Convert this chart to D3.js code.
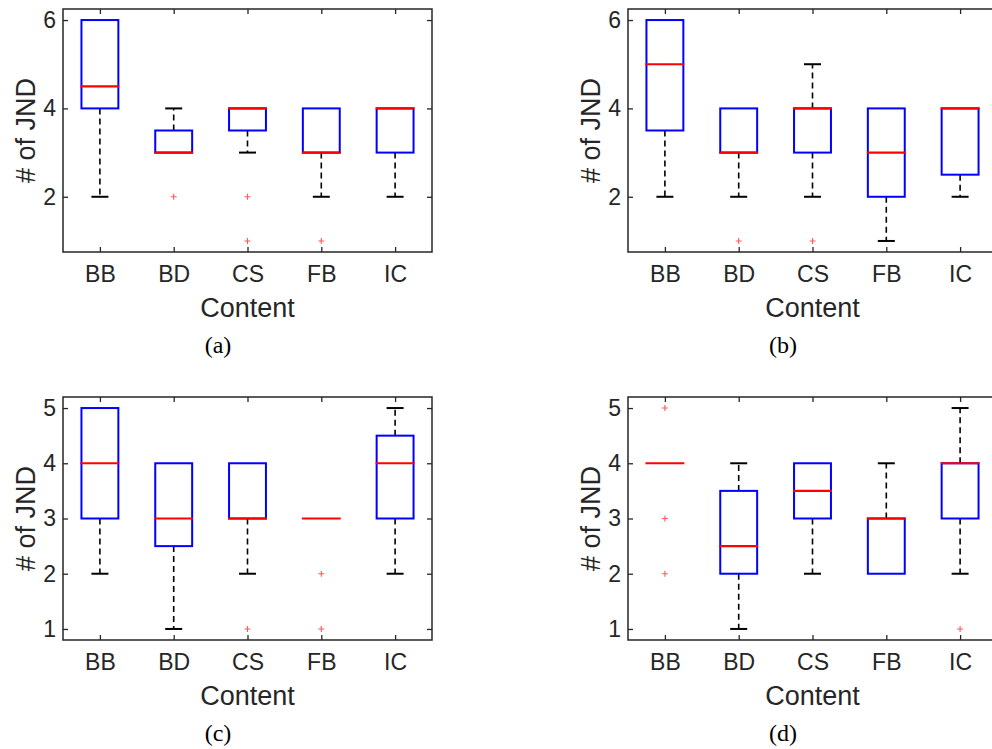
<!DOCTYPE html>
<html>
<head>
<meta charset="utf-8">
<script src="https://cdn.jsdelivr.net/npm/d3@7"></script>
<style>
  body{margin:0;background:#fff;}
  svg{display:block;}
</style>
</head>
<body>
<div id="chart"></div>
<script>
var categories = ["BB", "BD", "CS", "FB", "IC"];

// per category: [lower whisker, q1, median, q3, upper whisker]
var statsA = [[2, 4, 4.5, 6, 6], [3, 3, 3, 3.5, 4], [3, 3.5, 4, 4, 4], [2, 3, 3, 4, 4], [2, 3, 4, 4, 4]];
var outliersA = [[], [2], [2, 1], [1], []];

var statsB = [[2, 3.5, 5, 6, 6], [2, 3, 3, 4, 4], [2, 3, 4, 4, 5], [1, 2, 3, 4, 4], [2, 2.5, 4, 4, 4]];
var outliersB = [[], [1], [1], [], []];

var statsC = [[2, 3, 4, 5, 5], [1, 2.5, 3, 4, 4], [2, 3, 3, 4, 4], [3, 3, 3, 3, 3], [2, 3, 4, 4.5, 5]];
var outliersC = [[], [], [1], [2, 1], []];

var statsD = [[4, 4, 4, 4, 4], [1, 2, 2.5, 3.5, 4], [2, 3, 3.5, 4, 4], [2, 2, 3, 3, 4], [2, 3, 4, 4, 5]];
var outliersD = [[5, 3, 2], [], [], [], [1]];

var yTicksTop = [2, 4, 6];
var yTicksBottom = [1, 2, 3, 4, 5];
var yDomainTop = [0.75, 6.25];
var yDomainBottom = [0.8, 5.2];

var W = 992, H = 749,
    PW = 369, PH = 243;

var svg = d3.select("#chart").append("svg")
    .attr("width", W)
    .attr("height", H);

function drawPanel(cfg){
    var g = svg.append("g")
            .attr("transform", "translate(" + cfg.left + "," + cfg.top + ")"),
        x = d3.scalePoint().domain(categories).range([0, PW]).padding(0.5),
        y = d3.scaleLinear().domain(cfg.domain).range([PH, 0]),
        step = x.step(),
        boxW = step * 0.5,
        capW = 17,
        TICK = 5,
        FONT = "'Liberation Sans', Arial, Helvetica, sans-serif";

    // axes with inward ticks on all four sides
    var left = g.append("g").call(d3.axisLeft(y).tickValues(cfg.ticks).tickSize(-TICK).tickPadding(7).tickFormat(d3.format("d")));
    var right = g.append("g").attr("transform", "translate(" + PW + ",0)")
        .call(d3.axisRight(y).tickValues(cfg.ticks).tickSize(-TICK).tickFormat(""));
    var bottom = g.append("g").attr("transform", "translate(0," + PH + ")")
        .call(d3.axisBottom(x).tickSize(-TICK).tickPadding(14));
    var top = g.append("g").call(d3.axisTop(x).tickSize(-TICK).tickFormat(""));
    [left, right, bottom, top].forEach(function(a){
        a.select(".domain").remove();
        a.selectAll("line").attr("stroke", "#262626").attr("stroke-width", 1.3);
        a.selectAll("text").attr("fill", "#262626").style("font-family", FONT).style("font-size", "23px");
    });

    var boxes = g.selectAll(".bx")
        .data(cfg.stats)
        .enter().append("g")
        .attr("class", "bx")
        .attr("transform", function(d, i){ return "translate(" + x(categories[i]) + ",0)"; });

    // whiskers (dashed)
    boxes.append("line")
        .attr("y1", function(d){ return y(d[3]); })
        .attr("y2", function(d){ return y(d[4]); })
        .attr("stroke", "#000").attr("stroke-width", 1.6).attr("stroke-dasharray", "6,4");
    boxes.append("line")
        .attr("y1", function(d){ return y(d[1]); })
        .attr("y2", function(d){ return y(d[0]); })
        .attr("stroke", "#000").attr("stroke-width", 1.6).attr("stroke-dasharray", "6,4");

    // caps (a cap sitting on the box edge is hidden by it)
    boxes.selectAll(".cap")
        .data(function(d){ return [[d[0], d[1]], [d[4], d[3]]]; })
        .enter().append("line")
        .attr("class", "cap")
        .attr("x1", -capW / 2).attr("x2", capW / 2)
        .attr("y1", function(c){ return y(c[0]); })
        .attr("y2", function(c){ return y(c[0]); })
        .attr("stroke", "#000").attr("stroke-width", 2)
        .attr("stroke-opacity", function(c){ return c[0] === c[1] ? 0 : 1; });

    // box
    boxes.append("rect")
        .attr("x", -boxW / 2)
        .attr("width", boxW)
        .attr("y", function(d){ return y(d[3]); })
        .attr("height", function(d){ return y(d[1]) - y(d[3]); })
        .attr("fill", "none")
        .attr("stroke", "#0000ff")
        .attr("stroke-width", 2)
        .attr("stroke-opacity", function(d){ return d[1] === d[3] ? 0 : 1; });

    // median
    boxes.append("line")
        .attr("x1", -boxW / 2 - 1).attr("x2", boxW / 2 + 1)
        .attr("y1", function(d){ return y(d[2]); })
        .attr("y2", function(d){ return y(d[2]); })
        .attr("stroke", "#ff0000").attr("stroke-width", 2.2);

    // outliers
    cfg.outliers.forEach(function(list, i){
        g.selectAll(".o" + i)
            .data(list)
            .enter().append("path")
            .attr("class", "o" + i)
            .attr("transform", function(v){ return "translate(" + x(categories[i]) + "," + y(v) + ")"; })
            .attr("d", "M-3,0H3M0,-3V3")
            .attr("stroke", "#ff3030")
            .attr("stroke-opacity", 0.8)
            .attr("stroke-width", 1.1);
    });

    // frame
    g.append("rect")
        .attr("width", PW).attr("height", PH)
        .attr("fill", "none")
        .attr("stroke", "#262626")
        .attr("stroke-width", 1.5);

    g.append("text")
        .attr("transform", "translate(-28," + (PH / 2) + ") rotate(-90)")
        .attr("text-anchor", "middle")
        .attr("fill", "#262626")
        .style("font-family", FONT).style("font-size", "27px")
        .text("# of JND");

    g.append("text")
        .attr("x", PW / 2).attr("y", PH + 65)
        .attr("text-anchor", "middle")
        .attr("fill", "#262626")
        .style("font-family", FONT).style("font-size", "27px")
        .text("Content");

    g.append("text")
        .attr("x", 155).attr("y", PH + 101)
        .attr("text-anchor", "middle")
        .attr("fill", "#000")
        .style("font-family", "'Liberation Serif', 'DejaVu Serif', serif").style("font-size", "24px")
        .text(cfg.caption);
}

drawPanel({left: 63, top: 9, domain: yDomainTop, ticks: yTicksTop, stats: statsA, outliers: outliersA, caption: "(a)"});
drawPanel({left: 628, top: 9, domain: yDomainTop, ticks: yTicksTop, stats: statsB, outliers: outliersB, caption: "(b)"});
drawPanel({left: 63, top: 397, domain: yDomainBottom, ticks: yTicksBottom, stats: statsC, outliers: outliersC, caption: "(c)"});
drawPanel({left: 628, top: 397, domain: yDomainBottom, ticks: yTicksBottom, stats: statsD, outliers: outliersD, caption: "(d)"});
</script>
</body>
</html>
